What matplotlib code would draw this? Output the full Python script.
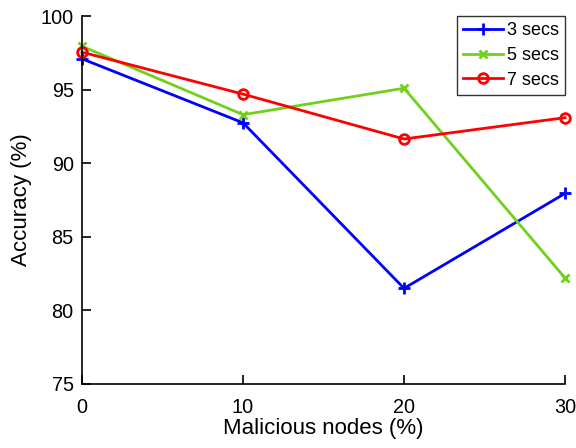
import numpy as np
import matplotlib.pyplot as plt

plt.rcParams['font.family'] = ['Liberation Sans', 'DejaVu Sans']

# data
nodes = [0, 10, 20, 30]
acc_3s = [97.1, 92.75, 81.5, 87.95]
acc_5s = [97.95, 93.3, 95.1, 82.2]
acc_7s = [97.55, 94.7, 91.65, 93.1]

fig = plt.figure(figsize=(5.76, 4.48), dpi=100)
ax = fig.add_axes([0.1424, 0.1429, 0.981 - 0.1424, 0.964 - 0.1429])

ax.plot(nodes, acc_3s, color='#0000ff', marker='+', ms=8, mew=2, lw=2, label='3 secs', clip_on=False)
ax.plot(nodes, acc_5s, color='#6fd11c', marker='x', ms=6, mew=2, lw=2, label='5 secs', clip_on=False)
ax.plot(nodes, acc_7s, color='#ff0000', marker='o', ms=7, mew=2, mfc='none', lw=2, label='7 secs', clip_on=False)

ax.set_xlim(0, 30)
ax.set_ylim(75, 100)
ax.set_xticks([0, 10, 20, 30])
ax.set_yticks([75, 80, 85, 90, 95, 100])
ax.spines['top'].set_visible(False)
ax.spines['right'].set_visible(False)
for s in ('left', 'bottom'):
    ax.spines[s].set_linewidth(1.2)
ax.tick_params(direction='in', length=6.5, width=1.2, labelsize=14.3)
ax.tick_params(axis='x', pad=10)
ax.tick_params(axis='y', pad=6)

ax.set_xlabel('Malicious nodes (%)', fontsize=16, labelpad=1)
ax.set_ylabel('Accuracy (%)', fontsize=16, labelpad=6)

leg = ax.legend(loc='upper right', bbox_to_anchor=(1.0, 1.0), fontsize=13, fancybox=False,
                edgecolor='#333333', framealpha=1, borderaxespad=0, handlelength=2.2,
                handletextpad=0.2, labelspacing=0.42, borderpad=0.35)
leg.get_frame().set_linewidth(1.0)

plt.savefig('out.png', dpi=100)
